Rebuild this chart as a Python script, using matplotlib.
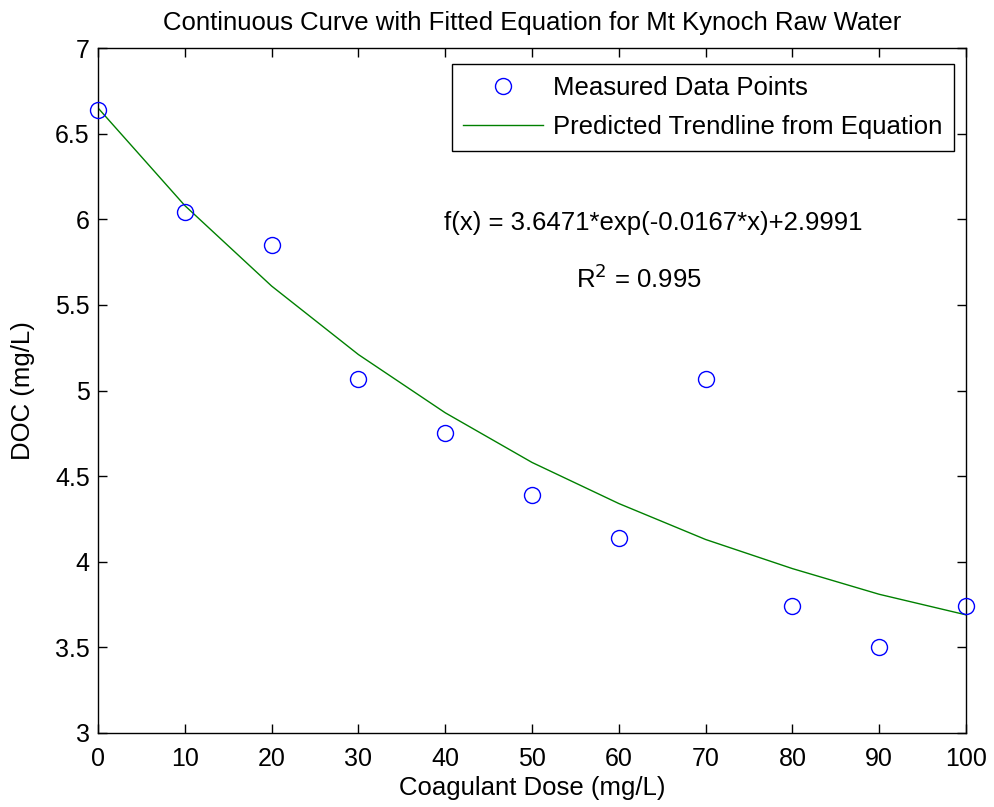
import matplotlib
matplotlib.use("Agg")
import matplotlib.pyplot as plt

# Values
dose = [0, 10, 20, 30, 40, 50, 60, 70, 80, 90, 100]
doc_measured = [6.64, 6.04, 5.85, 5.07, 4.75, 4.39, 4.14, 5.07, 3.74, 3.50, 3.74]
doc_trend = [6.65, 6.08, 5.61, 5.21, 4.87, 4.58, 4.34, 4.13, 3.96, 3.81, 3.69]

x_ticks = [0, 10, 20, 30, 40, 50, 60, 70, 80, 90, 100]
y_ticks = [3, 3.5, 4, 4.5, 5, 5.5, 6, 6.5, 7]
y_tick_labels = ["3", "3.5", "4", "4.5", "5", "5.5", "6", "6.5", "7"]

plt.rcParams["font.family"] = ["Liberation Sans", "DejaVu Sans"]
fs = 18.5

fig = plt.figure(figsize=(9.94, 8.07), dpi=100)
ax = fig.add_axes([98 / 994, 1 - 733 / 807, 868 / 994, 685 / 807])

ax.plot(dose, doc_measured, "o", color="blue", markerfacecolor="none",
        markersize=11.5, markeredgewidth=1.0, label="Measured Data Points",
        clip_on=False, zorder=3)
ax.plot(dose, doc_trend, "-", color=(0, 0.5, 0), linewidth=1.0,
        label="Predicted Trendline from Equation")

ax.set_xlim(0, 100)
ax.set_ylim(3, 7)
ax.set_xticks(x_ticks)
ax.set_yticks(y_ticks)
ax.set_yticklabels(y_tick_labels)
ax.tick_params(direction="in", length=6.5, width=1, top=True, right=True,
               labelsize=18)
ax.tick_params(axis="x", pad=10)
ax.tick_params(axis="y", pad=6)
for s in ax.spines.values():
    s.set_linewidth(1.0)

ax.set_title("Continuous Curve with Fitted Equation for Mt Kynoch Raw Water",
             fontsize=fs, pad=13)
ax.set_xlabel("Coagulant Dose (mg/L)", fontsize=fs, labelpad=4)
ax.set_ylabel("DOC (mg/L)", fontsize=fs, labelpad=14)

ax.text(39.9, 5.98, "f(x) = 3.6471*exp(-0.0167*x)+2.9991", fontsize=fs,
        ha="left", va="center")
ax.text(55.1, 5.65, r"R$^2$ = 0.995", fontsize=fs, ha="left", va="center")

leg = ax.legend(loc="upper right", bbox_to_anchor=(954 / 994, 1 - 64 / 807),
                bbox_transform=fig.transFigure, fontsize=fs, fancybox=False,
                edgecolor="black", framealpha=1, handlelength=3.1,
                handletextpad=0.4, borderaxespad=0, borderpad=0.45,
                labelspacing=0.6)
leg.get_frame().set_linewidth(1.0)

fig.savefig("out.png", dpi=100)
